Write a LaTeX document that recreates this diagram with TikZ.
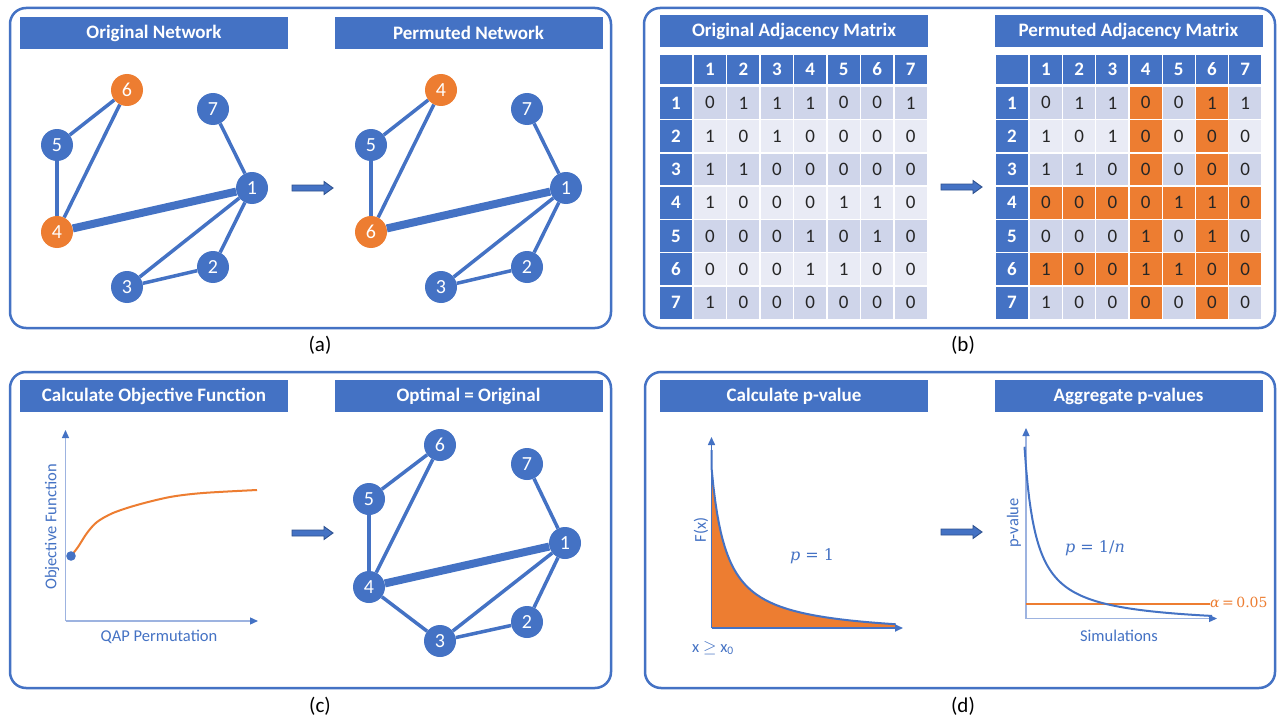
\documentclass[tikz,border=0pt]{standalone}
\usepackage{fontspec}
\setmainfont{Carlito}
\newfontfamily\mathlike{DejaVu Serif}
\usetikzlibrary{arrows.meta,backgrounds}
\definecolor{qblue}{HTML}{4472C4}
\definecolor{qorange}{HTML}{ED7D31}
\definecolor{qdark}{HTML}{2F528F}
\definecolor{tabA}{HTML}{CFD5EA}
\definecolor{tabB}{HTML}{E9EBF5}
\definecolor{axlight}{HTML}{9DB3E0}
\begin{document}
\begin{tikzpicture}[x=1pt,y=-1pt,
  panel/.style={draw=qblue, line width=2.5pt, rounded corners=16pt},
  tbar/.style={fill=qblue, text=white, font=\fontsize{19}{22}\selectfont\bfseries, minimum width=268pt, minimum height=32pt, inner sep=0pt},
  nnode/.style={circle, fill=qblue, text=white, minimum size=32pt, inner sep=0pt, font=\fontsize{20}{22}\selectfont},
  onode/.style={nnode, fill=qorange},
  edge/.style={draw=qblue, line width=3.5pt},
  heavyedge/.style={draw=qblue, line width=8pt},
  hcell/.style={fill=qblue, text=white, font=\fontsize{19}{22}\selectfont\bfseries, minimum width=32pt, inner sep=0pt},
  dcell/.style={text=black!85, font=\fontsize{19}{22}\selectfont, minimum width=32pt, minimum height=31.8pt, inner sep=0pt},
  caption/.style={font=\fontsize{21}{25}\selectfont},
  axisline/.style={draw=axlight, line width=1.3pt, -{Triangle[length=8pt,width=7pt,color=qblue]}},
  lbl/.style={text=qblue, font=\fontsize{16.5}{19}\selectfont, inner sep=0pt},
  mlbl/.style={text=qblue, font=\mathlike\fontsize{16}{19}\selectfont, inner sep=0pt},
  barrow/.pic={\draw[draw=qdark, fill=qblue, line width=0.9pt] (0,-3) -- (32,-3) -- (32,-6.5) -- (41,0) -- (32,6.5) -- (32,3) -- (0,3) -- cycle;}
]
\useasboundingbox (0,0) rectangle (1278,717);

% ---------- panels ----------
\draw[panel] (10,8) rectangle (611,328);
\draw[panel] (644,8) rectangle (1275,328);
\draw[panel] (10,372) rectangle (611,688);
\draw[panel] (645,372) rectangle (1275,688);

\node[tbar] (tA1) at (154,33) {Original Network};
\node[tbar] (tA2) at (468.5,33) {Permuted Network};
\node[tbar] (tB1) at (794,31) {Original Adjacency Matrix};
\node[tbar] (tB2) at (1128.5,31) {Permuted Adjacency Matrix};
\node[tbar] (tC1) at (154,396) {Calculate Objective Function};
\node[tbar] (tC2) at (468.5,396) {Optimal = Original};
\node[tbar] (tD1) at (794,396) {Calculate p-value};
\node[tbar] (tD2) at (1128.5,396) {Aggregate p-values};

\node[caption] (capA) at (320,345) {(a)};
\node[caption] (capB) at (963,345) {(b)};
\node[caption] (capC) at (320,706) {(c)};
\node[caption] (capD) at (963,706) {(d)};

% ---------- block arrows ----------
\pic at (292,188) {barrow};
\pic at (941,187) {barrow};
\pic at (292,533) {barrow};
\pic at (941,532) {barrow};

% ---------- (a) networks ----------
\node[nnode] (a1) at (252,188) {1};
\node[nnode] (a2) at (213,267) {2};
\node[nnode] (a3) at (127,287) {3};
\node[onode] (a4) at (57,232) {4};
\node[nnode] (a5) at (57,145) {5};
\node[onode] (a6) at (127,90) {6};
\node[nnode] (a7) at (213,109) {7};

\node[nnode] (b1) at (566,188) {1};
\node[nnode] (b2) at (527,267) {2};
\node[nnode] (b3) at (441,287) {3};
\node[onode] (b4) at (441,90) {4};
\node[nnode] (b5) at (371,145) {5};
\node[onode] (b6) at (371,232) {6};
\node[nnode] (b7) at (527,109) {7};

% ---------- (c) network ----------
\node[nnode] (c1) at (565,543) {1};
\node[nnode] (c2) at (527,622) {2};
\node[nnode] (c3) at (440,641) {3};
\node[nnode] (c4) at (369,587) {4};
\node[nnode] (c5) at (369,499) {5};
\node[nnode] (c6) at (440,445) {6};
\node[nnode] (c7) at (527,464) {7};

\begin{scope}[on background layer]
  \fill[white] (0,0) rectangle (1278,717);
  \draw[edge] (a6) -- (a5);
  \draw[edge] (a6) -- (a4);
  \draw[edge] (a5) -- (a4);
  \draw[edge] (a7) -- (a1);
  \draw[heavyedge] (a4) -- (a1);
  \draw[edge] (a1) -- (a2);
  \draw[edge] (a1) -- (a3);
  \draw[edge] (a3) -- (a2);

  \draw[edge] (b4) -- (b5);
  \draw[edge] (b4) -- (b6);
  \draw[edge] (b5) -- (b6);
  \draw[edge] (b7) -- (b1);
  \draw[heavyedge] (b6) -- (b1);
  \draw[edge] (b1) -- (b2);
  \draw[edge] (b1) -- (b3);
  \draw[edge] (b3) -- (b2);

  \draw[edge] (c6) -- (c5);
  \draw[edge] (c6) -- (c4);
  \draw[edge] (c5) -- (c4);
  \draw[edge] (c7) -- (c1);
  \draw[heavyedge] (c4) -- (c1);
  \draw[edge] (c4) -- (c3);
  \draw[edge] (c3) -- (c1);
  \draw[edge] (c3) -- (c2);
  \draw[edge] (c2) -- (c1);
\end{scope}

% ---------- (b) matrices ----------
% left
\node[hcell, minimum height=29pt] (Lcorner) at (676,69.5) {};
\foreach \c in {1,...,7}{
  \node[hcell, minimum height=29pt] (Lh\c) at ({694+(\c-1)*33.43+16},69.5) {\c};
}
\foreach \r/\vals in {1/{0,1,1,1,0,0,1},2/{1,0,1,0,0,0,0},3/{1,1,0,0,0,0,0},4/{1,0,0,0,1,1,0},5/{0,0,0,1,0,1,0},6/{0,0,0,1,1,0,0},7/{1,0,0,0,0,0,0}}{
  \node[hcell, minimum height=31.8pt] (Lr\r) at (676,{87+(\r-1)*33.29+15.9}) {\r};
  \foreach \v [count=\c] in \vals {
    \ifodd\r\relax\def\cc{tabA}\else\def\cc{tabB}\fi
    \node[dcell, fill=\cc] (L\r-\c) at ({694+(\c-1)*33.43+16},{87+(\r-1)*33.29+15.9}) {\v};
  }
}
% right
\node[hcell, minimum height=29pt] (Rcorner) at (1012,69.5) {};
\foreach \c in {1,...,7}{
  \node[hcell, minimum height=29pt] (Rh\c) at ({1030+(\c-1)*33.2+16},69.5) {\c};
}
\foreach \r/\vals in {1/{0,1,1,0,0,1,1},2/{1,0,1,0,0,0,0},3/{1,1,0,0,0,0,0},4/{0,0,0,0,1,1,0},5/{0,0,0,1,0,1,0},6/{1,0,0,1,1,0,0},7/{1,0,0,0,0,0,0}}{
  \node[hcell, minimum height=31.8pt] (Rr\r) at (1012,{87+(\r-1)*33.29+15.9}) {\r};
  \foreach \v [count=\c] in \vals {
    \ifodd\r\relax\def\cc{tabA}\else\def\cc{tabB}\fi
    \ifnum\r=4 \def\cc{qorange}\fi
    \ifnum\r=6 \def\cc{qorange}\fi
    \ifnum\c=4 \def\cc{qorange}\fi
    \ifnum\c=6 \def\cc{qorange}\fi
    \node[dcell, fill=\cc] (R\r-\c) at ({1030+(\c-1)*33.2+16},{87+(\r-1)*33.29+15.9}) {\v};
  }
}

% ---------- (c) plot ----------
\coordinate (cO) at (65.5,621);
\coordinate (cY) at (65.5,430);
\coordinate (cX) at (258,621);
\draw[axisline] (cO) -- (cY);
\draw[axisline] (cO) -- (cX);
\draw[qorange, line width=2pt] plot[smooth] coordinates {(71,556) (78,547) (87,533) (97,522) (113,513) (137,505) (170,497) (203,493) (257,490)};
\fill[qblue] (71,556) circle (4.8pt);
\node[lbl, rotate=90] (cYl) at (52,527) {Objective Function};
\node[lbl] (cXl) at (159,637) {QAP Permutation};

% ---------- (d) left plot ----------
\fill[qorange] (711.5,628) -- (711.5,450) -- plot[domain=0:184,samples=100] ({711.5+\x},{628-2558/(\x+15.08)+9.08}) -- (895.5,628) -- cycle;
\coordinate (dO) at (711.5,628);
\coordinate (dY) at (711.5,437);
\coordinate (dX) at (903,628);
\draw[draw=qblue, line width=1.5pt, -{Triangle[length=8pt,width=7pt,color=qblue]}] (dO) -- (dY);
\draw[draw=qblue, line width=1.8pt, -{Triangle[length=8pt,width=7pt,color=qblue]}] (dO) -- (dX);
\draw[qblue, line width=2pt] (711.5,450) -- plot[domain=0:184,samples=100] ({711.5+\x},{628-2558/(\x+15.08)+9.08});
\node[lbl, rotate=90] (Fx) at (701,530) {F(x)};
\node[mlbl] (p1) at (812,556) {\itshape p\upshape\ = 1};
\node[lbl] (xge) at (713,648) {x $\geq$ x\textsubscript{0}};

% ---------- (d) right plot ----------
\coordinate (eO) at (1026,618.5);
\coordinate (eY) at (1026,428);
\coordinate (eX) at (1217,618.5);
\draw[axisline] (eO) -- (eY);
\draw[axisline] (eO) -- (eX);
\node[text=qorange, font=\mathlike\fontsize{14}{17}\selectfont, anchor=west, inner sep=0pt] (alpha) at (1210,602) {\itshape α\upshape\hspace{2.5pt}=\hspace{2.5pt}0.05};
\coordinate (aS) at (1026,604);
\draw[qorange, line width=2pt] (aS) -- (aS -| alpha.west);
\draw[qblue, line width=2pt] plot[domain=-1.5:186,samples=120] ({1026+\x},{618-2103/(\x+13.2)+8.5});
\node[lbl, rotate=90] (pv) at (1014,523) {p-value};
\node[mlbl] (p2) at (1095,548) {\itshape p\upshape\ = 1/\itshape n};
\node[lbl] (sim) at (1119,636) {Simulations};
\end{tikzpicture}
\end{document}
